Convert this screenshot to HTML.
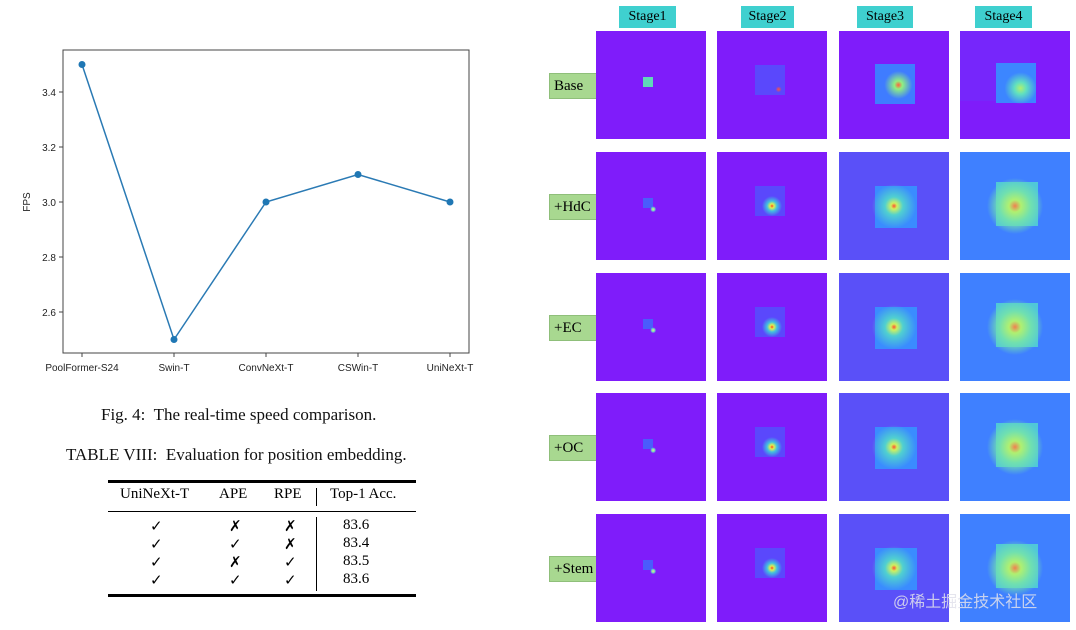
<!DOCTYPE html>
<html><head><meta charset="utf-8"><style>
body{margin:0;width:1076px;height:630px;background:#fff;position:relative;overflow:hidden;font-family:"Liberation Serif",serif}
.abs{position:absolute}
.cap{font-size:17px;color:#111;white-space:nowrap}
.stage{background:#3fd0cf;font-size:14px;text-align:center;line-height:22px;height:22px}
.rowlab{background:#a8d890;border:1px solid #8fbf7a;font-size:15px;line-height:24px;height:24px;padding-left:4px}
.cell{position:absolute;width:110px;height:108px}
</style></head><body>
<svg class="abs" style="left:0;top:0" width="500" height="380" font-family="Liberation Sans, DejaVu Sans, sans-serif">
<g id="chart"></g>
</svg>
<div class="abs cap" style="left:101px;top:405px">Fig. 4:&nbsp; The real-time speed comparison.</div>
<div class="abs cap" style="left:66px;top:445px">TABLE VIII:&nbsp; Evaluation for position embedding.</div>
<div class="abs" style="left:108px;top:480px;width:308px;height:118px">
 <div class="abs" style="left:0;top:0;width:308px;height:3px;background:#000"></div>
 <div class="abs" style="left:0;top:31px;width:308px;height:1px;background:#000"></div>
 <div class="abs" style="left:0;top:114px;width:308px;height:3px;background:#000"></div>
 <div class="abs" style="left:208px;top:8px;width:1px;height:18px;background:#000"></div>
 <div class="abs" style="left:208px;top:37px;width:1px;height:74px;background:#000"></div>
 <div class="abs" style="font-size:15px;top:6px;left:12px">UniNeXt-T</div>
 <div class="abs" style="font-size:15px;top:6px;left:111px">APE</div>
 <div class="abs" style="font-size:15px;top:6px;left:166px">RPE</div>
 <div class="abs" style="font-size:15px;top:6px;left:222px">Top-1 Acc.</div>
 <div id="rows"></div>
</div>
<div id="grid"></div>
<div class="abs" style="left:893px;top:588px;font-family:'Liberation Sans','Noto Sans CJK SC',sans-serif;font-size:16px;color:rgba(225,225,235,0.85)">@稀土掘金技术社区</div>
<script>
const categories=["PoolFormer-S24","Swin-T","ConvNeXt-T","CSWin-T","UniNeXt-T"];
const fps=[3.5,2.5,3.0,3.1,3.0];
const yTicks=[2.6,2.8,3.0,3.2,3.4];
const tUni=["✓","✓","✓","✓"];
const tApe=["✗","✓","✗","✓"];
const tRpe=["✗","✗","✓","✓"];
const tAcc=["83.6","83.4","83.5","83.6"];
const NS="http://www.w3.org/2000/svg";
const g=document.getElementById("chart");
const L=63,R=469,T=50,B=353;
const x=i=>82+i*(450-82)/(categories.length-1);
const y=v=>202-(v-3.0)/0.2*55;
function mk(t,a,p){const e=document.createElementNS(NS,t);for(const k in a)e.setAttribute(k,a[k]);(p||g).appendChild(e);return e;}
const fr=mk("rect",{x:L,y:T,width:R-L,height:B-T,fill:"none",stroke:"#444","stroke-width":1});


yTicks.forEach(v=>{
 mk("line",{x1:L-4,x2:L,y1:y(v),y2:y(v),stroke:"#444"});
 const t=mk("text",{x:L-7,y:y(v)+4,"text-anchor":"end","font-size":10,fill:"#222"});t.textContent=v.toFixed(1);
 
 
});
categories.forEach((c,i)=>{
 mk("line",{x1:x(i),x2:x(i),y1:B,y2:B+4,stroke:"#444"});
 const t=mk("text",{x:x(i),y:B+18,"text-anchor":"middle","font-size":10,fill:"#222"});t.textContent=c;
 
 
});
const yl=mk("text",{x:30,y:202,"text-anchor":"middle","font-size":10,fill:"#222",transform:"rotate(-90 30 202)"});yl.textContent="FPS";


const ln=mk("polyline",{points:fps.map((v,i)=>x(i)+","+y(v)).join(" "),fill:"none",stroke:"#2a7ab4","stroke-width":1.5});


fps.forEach((v,i)=>{const c=mk("circle",{cx:x(i),cy:y(v),r:3.5,fill:"#1f77b4"});
 
 });
const rows=document.getElementById("rows");
tUni.forEach((u,i)=>{
 const top=37+i*18;
 [[u,42],[tApe[i],121],[tRpe[i],176],[tAcc[i],235]].forEach(([s,l])=>{
  const d=document.createElement("div");d.className="abs";d.style.cssText=`font-size:15px;top:${top}px;left:${l}px`;d.textContent=s;
  
  
  rows.appendChild(d);});
});
const grid=document.getElementById("grid");
const stages=["Stage1","Stage2","Stage3","Stage4"];
const colX=[596,717,839,960], rowY=[31,152,273,393,514];
const stageX=[[619,57],[741,53],[857,56],[975,57]];
const labels=["Base","+HdC","+EC","+OC","+Stem"];
const P="#7f1cfa";
function cellBg(i,j){
 if(j===0){
  const sq=i===0?"#60d8b8":"#4a5cfc";
  const hot=i===0?"":"radial-gradient(circle at 52% 53%, #ffe070 0px, #70e0c0 1.5px, rgba(80,110,255,0) 3px),";
  return `${hot}linear-gradient(${sq},${sq}) 47px 46px/10px 10px no-repeat, ${P}`;
 }
 if(j===1){
  const hot=i===0?"radial-gradient(circle at 56% 54%, #ff5040 0px, rgba(255,80,64,0) 3px),":"radial-gradient(circle at 50% 50%, #ff4020 0px, #e0f050 2px, #40c0e0 5px, rgba(64,140,255,0) 10px),";
  return `${hot}linear-gradient(#5a48fc,#5a48fc) 38px 34px/30px 30px no-repeat, ${P}`;
 }
 if(i===0){
  if(j===2) return `radial-gradient(circle at 54% 50%, #ff6040 0px, #90f080 4px, rgba(60,160,255,0) 14px), linear-gradient(#3f7cff,#3f7cff) 36px 33px/40px 40px no-repeat, ${P}`;
  return `radial-gradient(circle at 55% 53%, #b0f070 0px, #60e0c0 6px, rgba(60,160,255,0) 16px), linear-gradient(#3c86ff,#3c86ff) 36px 32px/40px 40px no-repeat, linear-gradient(#7626fb,#7626fb) 0 0/70px 70px no-repeat, ${P}`;
 }
 if(j===2) return `radial-gradient(circle at 50% 50%, #ff5030 0px, #d0f060 3px, #50d0d0 9px, rgba(60,150,255,0) 22px), linear-gradient(#3a8cff,#3a8cff) 36px 34px/42px 42px no-repeat, #5a50f8`;
 return `radial-gradient(circle at 50% 50%, #f08050 0px, #b0f070 6px, #70e0b0 16px, rgba(70,200,200,0) 28px), linear-gradient(#50c8d8,#50c8d8) 36px 30px/42px 44px no-repeat, #3f80ff`;
}
stages.forEach((s,j)=>{const d=document.createElement("div");d.className="abs stage";d.style.cssText=`left:${stageX[j][0]}px;top:6px;width:${stageX[j][1]}px`;d.textContent=s;
 
 
 grid.appendChild(d);});
labels.forEach((lb,i)=>{
 const d=document.createElement("div");d.className="abs rowlab";d.style.cssText=`left:549px;top:${rowY[i]+42}px;width:42px`;d.textContent=lb;
 
 
 grid.appendChild(d);
 colX.forEach((cx,j)=>{
  const c=document.createElement("div");c.className="cell";
  c.style.cssText=`left:${cx}px;top:${rowY[i]}px;background:${cellBg(i,j)}`;
  
  
  grid.appendChild(c);
 });
});
</script>
</body></html>
